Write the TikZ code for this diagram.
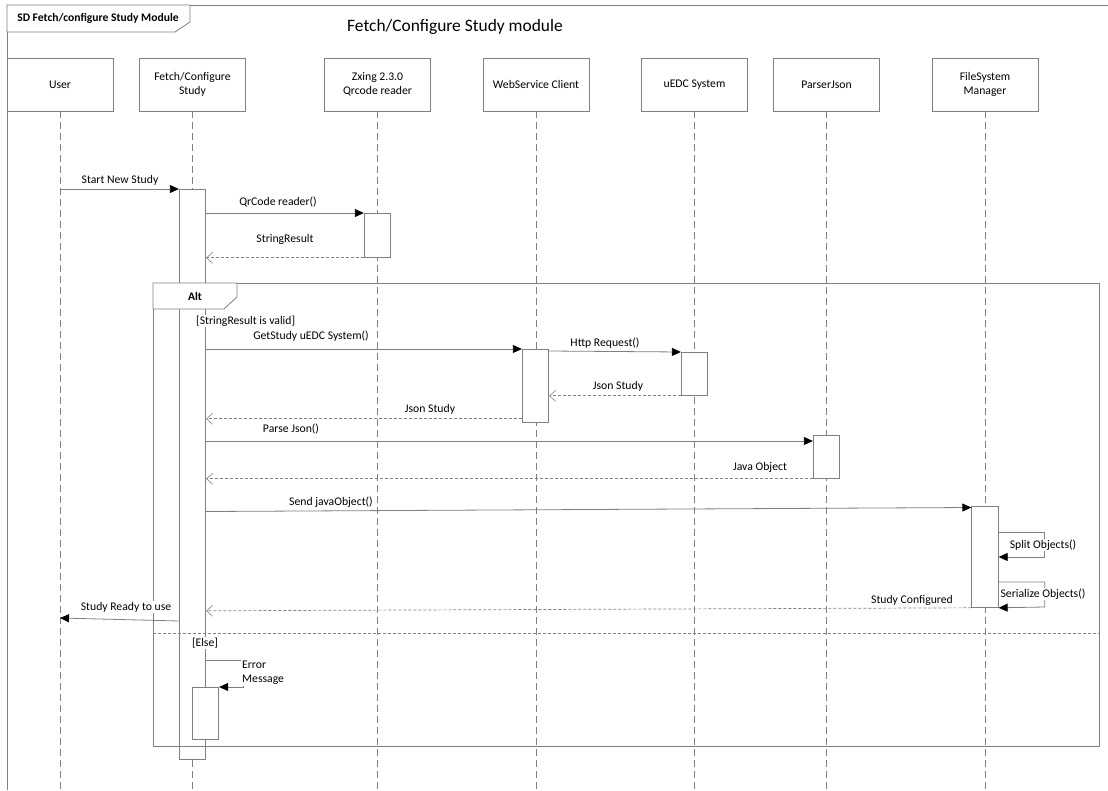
\documentclass[tikz,border=0pt]{standalone}
\usepackage{fontspec}
\setmainfont{Carlito}
\usetikzlibrary{arrows.meta,calc}
\definecolor{lc}{RGB}{128,128,128}
\newcommand\lblfont{\fontsize{11.7}{14}\selectfont}
\newcommand\bfsmall{\fontsize{11.6}{13}\selectfont\bfseries}
\begin{document}
\begin{tikzpicture}[x=1pt,y=-1pt,
  head/.style={draw=lc, line width=0.8pt, fill=white, minimum width=106pt,
    minimum height=53pt, inner sep=2pt, align=center, font=\lblfont},
  act/.style={draw=lc, line width=0.8pt, fill=white, minimum width=26.5pt,
    inner sep=0pt, anchor=north},
  life/.style={draw=lc, line width=0.7pt, dash pattern=on 7pt off 4pt},
  frm/.style={draw=lc, line width=0.8pt},
  msg/.style={draw=lc, line width=0.8pt,
    -{Triangle[length=9pt,width=8pt,color=black]}},
  ret/.style={draw=lc, line width=0.7pt, dash pattern=on 3pt off 2pt,
    -{Straight Barb[length=6pt,width=11pt,line width=0.6pt]}},
  lbl/.style={font=\lblfont, inner sep=1pt, fill=white},
]
\useasboundingbox (0,0) rectangle (1108,790);
\coordinate (bot) at (0,790);

% lifeline heads
\node[head] (user)   at (60,84.5)    {User};
\node[head] (fetch)  at (192.5,84.5) {Fetch/Configure\\Study};
\node[head] (zxing)  at (377.5,84.5) {Zxing 2.3.0\\Qrcode reader};
\node[head] (ws)     at (536,84.5)   {WebService Client};
\node[head] (uedc)   at (694.5,84.5) {uEDC System};
\node[head] (parser) at (826.5,84.5) {ParserJson};
\node[head] (fsm)    at (985,84.5)   {FileSystem\\Manager};

% lifelines
\foreach \n in {user,fetch,zxing,ws,uedc,parser,fsm}
  \draw[life] (\n.south) -- (\n.south |- bot);

% outer diagram frame with its name tab
\draw[frm] (7,790) -- (7,5) -- (1108,5);
\draw[frm, fill=white] (7,5) -- (190,5) -- (190,22) -- (175,32) -- (7,32) -- cycle;
\node[font=\bfsmall, inner sep=0pt] (sdname) at (98,18) {SD Fetch/configure Study Module};
\node[font=\fontsize{17.4}{20}\selectfont, inner sep=0pt] (title) at (455,27) {Fetch/Configure Study module};

% main activation of Fetch/Configure Study
\node[act, minimum height=570pt] (fA) at (192.5,189) {};

% alt combined fragment
\draw[frm] (153,283) rectangle (1099,746);
\draw[draw=lc, line width=0.7pt, dash pattern=on 3pt off 2pt] (153,633) -- (1099,633);
\draw[frm, fill=white] (153,283) -- (237,283) -- (237,297) -- (224,309) -- (153,309) -- cycle;
\node[font=\bfsmall, inner sep=0pt] (altname) at (195,296) {Alt};
\node[lbl, anchor=west] (guard1) at (195,321) {[StringResult is valid]};
\node[lbl] (guard2) at (205,643) {[Else]};

% other activations
\node[act, minimum height=44pt]  (zA) at (377.5,213) {};
\node[act, minimum height=73pt]  (wA) at (535.5,349) {};
\node[act, minimum height=43pt]  (uA) at (694.5,352) {};
\node[act, minimum height=43pt]  (pA) at (826.5,435) {};
\node[act, minimum height=101pt] (sA) at (985,506) {};
\node[act, minimum height=52pt]  (eA) at (205.5,687) {};

% messages
\draw[msg] (user.south |- fA.north) -- (fA.north west);
\node[lbl] (m1) at (120,180) {Start New Study};

\draw[msg] (fA.east |- zA.north) -- (zA.north west);
\node[lbl] (m2) at (278,202) {QrCode reader()};
\draw[ret] (zA.south west) -- (fA.east |- zA.south);
\node[lbl] (m3) at (285,239) {StringResult};

\draw[msg] (fA.east |- wA.north) -- (wA.north west);
\node[lbl] (m4) at (311,336) {GetStudy uEDC System()};
\draw[msg] ($(wA.north east)+(0,2)$) -- (uA.north west);
\node[lbl] (m5) at (605,343) {Http Request()};
\draw[ret] (uA.south west) -- (wA.east |- uA.south);
\node[lbl] (m6) at (618,386) {Json Study};
\coordinate (wR) at ($(wA.south west)+(0,-4)$);
\draw[ret] (wR) -- (fA.east |- wR);
\node[lbl] (m7) at (430,409) {Json Study};

\coordinate (pC) at ($(pA.north west)+(0,6)$);
\draw[msg] (fA.east |- pC) -- (pC);
\node[lbl] (m8) at (291,429) {Parse Json()};
\draw[ret] (pA.south west) -- (fA.east |- pA.south);
\node[lbl] (m9) at (760,467) {Java Object};

\coordinate (sC) at ($(sA.north west)+(0,1.5)$);
\draw[msg] ($(fA.east |- sC)+(0,4)$) -- (sC);
\node[lbl] (m10) at (331,502) {Send javaObject()};

\draw[msg] ($(sA.north east)+(0,26)$) -- ++(46,0) -- ++(0,25) -- ++(-46,0);
\node[lbl] (m11) at (1043,545) {Split Objects()};
\draw[msg] ($(sA.north east)+(0,76)$) -- ++(46,0) -- ++(0,25) -- (sA.south east);
\node[lbl] (m12) at (1043,594) {Serialize Objects()};

\draw[ret] (sA.south west) -- ($(fA.east |- sA.south)+(0,3)$);
\node[lbl] (m13) at (912,600) {Study Configured};

\coordinate (rU) at ($(fA.north west)+(0,432)$);
\draw[msg] (rU) -- ($(user.south |- rU)+(0,-3)$);
\node[lbl] (m14) at (126,607) {Study Ready to use};

\draw[msg] ($(fA.north east)+(0,471)$) -- ++(37,0) -- ++(0,27) -- (eA.north east);
\node[lbl, anchor=west, align=left] (m15) at (241,673) {Error\\Message};
\end{tikzpicture}
\end{document}
